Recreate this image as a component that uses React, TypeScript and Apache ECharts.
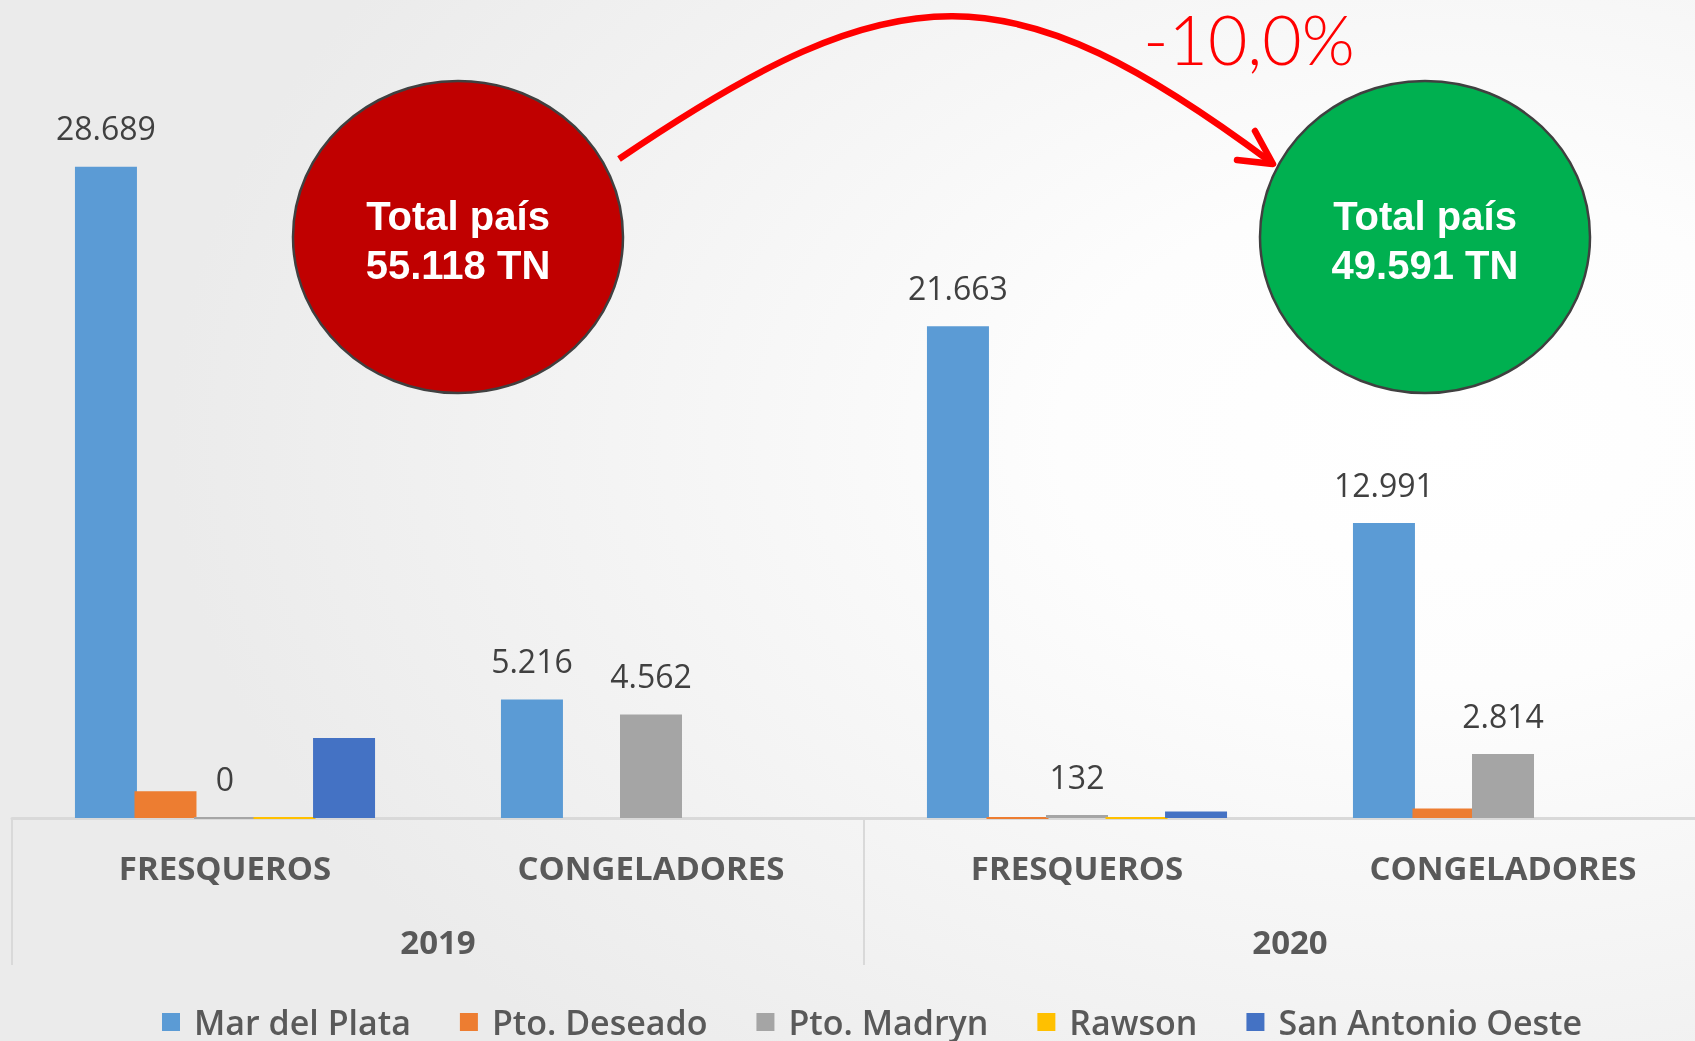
import React, { useEffect, useRef } from "react";
import * as echarts from "echarts";

const categories = ["FRESQUEROS", "CONGELADORES", "FRESQUEROS", "CONGELADORES"];
const years = ["2019", "2020"];
const seriesNames = ["Mar del Plata", "Pto. Deseado", "Pto. Madryn", "Rawson", "San Antonio Oeste"];
const seriesColors = ["#5B9BD5", "#ED7D31", "#A5A5A5", "#FFC000", "#4472C4"];

const marDelPlata = [28689, 5216, 21663, 12991];
const ptoDeseado = [1180, null, 0, 420];
const ptoMadryn = [0, 4562, 132, 2814];
const rawson = [0, null, 0, null];
const sanAntonioOeste = [3520, null, 290, null];

const labelledSeries = [true, false, true, false, false];
const totals = ["55.118 TN", "49.591 TN"];
const changeText = "-10,0%";

const fmt = (v: number) => String(v).replace(/\B(?=(\d{3})+(?!\d))/g, ".");

export default function App() {
  const ref = useRef<HTMLDivElement>(null);
  useEffect(() => {
    if (!ref.current) return;
    const chart = echarts.init(ref.current, null, { renderer: "svg" });
    const allValues = [marDelPlata, ptoDeseado, ptoMadryn, rawson, sanAntonioOeste];
    const series = allValues.map((vals, i) => ({
      name: seriesNames[i],
      type: "bar",
      barWidth: 62,
      barGap: "-4%",
      itemStyle: { color: seriesColors[i] },
      data: vals.map((v) =>
        v === 0
          ? { value: 0, itemStyle: { borderColor: seriesColors[i], borderWidth: 2 } }
          : v === null
          ? "-"
          : v
      ),
      label: {
        show: labelledSeries[i],
        position: "top",
        distance: 23,
        color: "#404040",
        fontFamily: "Open Sans",
        fontSize: 32,
        formatter: (p: any) => fmt(p.value),
      },
    }));

    chart.setOption({
      animation: false,
      grid: { left: 12, top: 137, height: 681, right: 14 },
      legend: {
        left: 157,
        top: 1000,
        itemWidth: 18,
        itemHeight: 18,
        itemGap: 49,
        icon: "rect",
        textStyle: {
          color: "#595959",
          fontFamily: "Open Sans",
          fontWeight: 600,
          fontSize: 34,
          padding: [0, 0, 0, 9],
        },
        data: seriesNames,
      },
      xAxis: [
        {
          type: "category",
          data: categories,
          axisLine: { lineStyle: { color: "#D9D9D9", width: 3 } },
          axisTick: { show: false },
          axisLabel: {
            margin: 33,
            color: "#595959",
            fontFamily: "Open Sans",
            fontWeight: "bold",
            fontSize: 33,
          },
        },
        {
          type: "category",
          data: years,
          position: "bottom",
          axisLine: { show: false },
          axisTick: { show: true, length: 147, lineStyle: { color: "#D9D9D9", width: 2 } },
          axisLabel: {
            margin: 107,
            color: "#595959",
            fontFamily: "Open Sans",
            fontWeight: "bold",
            fontSize: 33,
          },
        },
      ],
      yAxis: { type: "value", min: 0, max: 30000, show: false, splitLine: { show: false } },
      series,
      graphic: [
        {
          type: "bezierCurve",
          shape: { x1: 619, y1: 159, cpx1: 900, cpy1: -32, cpx2: 1010, cpy2: -32, x2: 1272, y2: 163 },
          style: { stroke: "#FF0000", lineWidth: 6.5, fill: null },
          z: 10,
        },
        {
          type: "polyline",
          shape: { points: [[1255, 131], [1273, 164], [1237, 160]] },
          style: { stroke: "#FF0000", lineWidth: 6.5, fill: null, lineCap: "round", lineJoin: "round" },
          z: 10,
        },
        {
          type: "ellipse",
          shape: { cx: 458, cy: 237, rx: 165, ry: 156 },
          style: { fill: "#C00000", stroke: "#404040", lineWidth: 2.5 },
          z: 11,
        },
        {
          type: "ellipse",
          shape: { cx: 1425, cy: 237, rx: 165, ry: 156 },
          style: { fill: "#00B050", stroke: "#404040", lineWidth: 2.5 },
          z: 11,
        },
        {
          type: "text",
          x: 458,
          y: 240,
          z: 12,
          style: {
            text: "Total país\n" + totals[0],
            fill: "#FFFFFF",
            fontFamily: "Liberation Sans",
            fontWeight: "bold",
            fontSize: 40,
            lineHeight: 49,
            align: "center",
            verticalAlign: "middle",
          },
        },
        {
          type: "text",
          x: 1425,
          y: 240,
          z: 12,
          style: {
            text: "Total país\n" + totals[1],
            fill: "#FFFFFF",
            fontFamily: "Liberation Sans",
            fontWeight: "bold",
            fontSize: 40,
            lineHeight: 49,
            align: "center",
            verticalAlign: "middle",
          },
        },
        {
          type: "text",
          x: 1249,
          y: 38,
          z: 12,
          style: {
            text: changeText,
            fill: "#FF0000",
            fontFamily: "Lato",
            fontWeight: 300,
            fontSize: 68,
            align: "center",
            verticalAlign: "middle",
          },
        },
      ],
    });
    return () => chart.dispose();
  }, []);
  return (
    <div
      style={{
        position: "fixed",
        left: 0,
        top: 0,
        width: 1695,
        height: 1041,
        overflow: "hidden",
        background:
          "radial-gradient(ellipse 75% 80% at 85% 42%, #ffffff 0%, #fdfdfd 30%, #ebebeb 100%)",
      }}
    >
      <div ref={ref} style={{ position: "absolute", left: 0, top: 0, width: 1730, height: 1041 }} />
    </div>
  );
}
